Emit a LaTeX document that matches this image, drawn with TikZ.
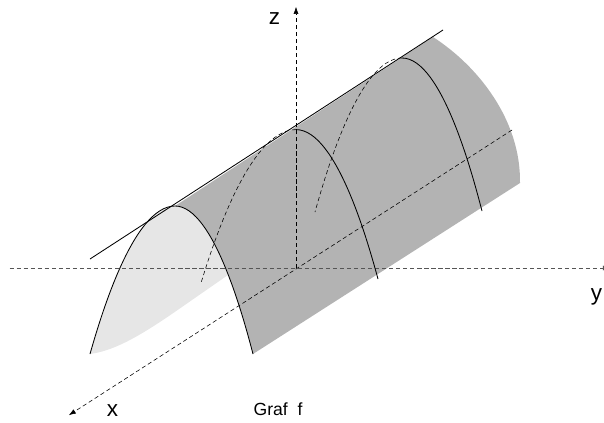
\documentclass[tikz,border=0pt]{standalone}
\usepackage{fontspec}
\setmainfont{Liberation Sans}
\usetikzlibrary{arrows.meta}
\definecolor{cOUTER}{RGB}{179,179,179}
\definecolor{cINNER}{RGB}{230,230,230}
\definecolor{cYAXIS}{RGB}{85,85,85}

\begin{document}
\begin{tikzpicture}[
  axis/.style={densely dashed,thin,-{Latex[length=5pt,width=3.5pt]}},
  cut/.style={semithick},
  hidden/.style={densely dashed,thin}]
\useasboundingbox (-7.4,-3.85) rectangle (7.7,6.7);
% apexes and feet of the cuts
\coordinate (F) at (-3.025,1.55);
\coordinate (Fl) at (-5.15,-2.15);
\coordinate (Fr) at (-1.075,-2.15);
\coordinate (M) at (0,3.46);
\coordinate (Mr) at (2.05,-0.275);
\coordinate (Ml) at (-2.375,-0.375);
\coordinate (B) at (2.65,5.25);
\coordinate (Br) at (4.65,1.425);
\coordinate (Bl) at (0.475,1.4);
\coordinate (E) at (3.425,5.775);
\coordinate (Er) at (5.6,2.125);
\coordinate (ridgeA) at (-5.15,0.225);
\coordinate (ridgeB) at (3.675,5.95);
% inside of the surface
\begin{scope}
\clip (Fl) parabola bend (F) (Fr) -- cycle;
\fill[cINNER] (Fl) .. controls (-4.4,-2.05) and (-3.6,-1.5) .. (-2.6,-0.8)
  -- (-0.9,0.38) -- (-0.9,2) -- (-5.3,2) -- cycle;
\end{scope}
% outside of the surface
\fill[cOUTER] (F) -- (E) .. controls (4.55,5.05) and (5.625,3.7) .. (Er)
  -- (Fr) parabola[bend at end] (F) -- cycle;
% axes
\draw[axis,cYAXIS,semithick] (-7.16,0) -- (7.85,0);
\draw[axis] (0,0) -- (0,6.53);
\draw[axis] (5.4,3.45) -- (-5.68,-3.68);
% cuts
\draw[cut] (ridgeA) -- (ridgeB);
\draw[cut] (Fl) parabola bend (F) (Fr);
\draw[cut] (M) parabola (Mr);
\draw[cut] (B) parabola (Br);
\draw[hidden] (M) parabola (Ml);
\draw[hidden] (B) parabola (Bl);
% labels
\node[font=\fontsize{16}{18}\selectfont] (zlabel) at (-0.54,6.225) {z};
\node[font=\fontsize{16}{18}\selectfont] (xlabel) at (-4.59,-3.575) {x};
\node[font=\fontsize{16}{18}\selectfont,anchor=base east,inner sep=0pt] (ylabel) at (7.66,-0.8) {y};
\node[font=\fontsize{12.5}{14}\selectfont] (graf) at (-0.45,-3.54) {Graf\ \ f};
\end{tikzpicture}
\end{document}
